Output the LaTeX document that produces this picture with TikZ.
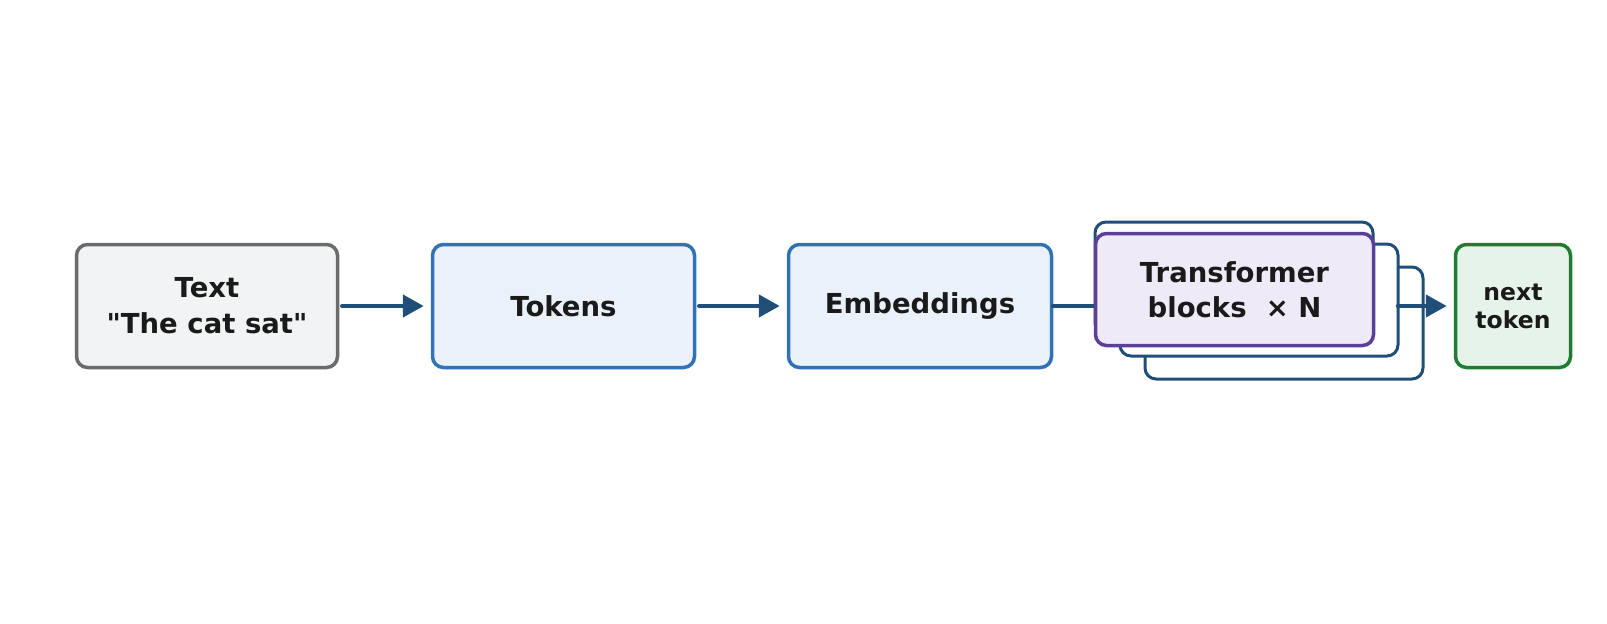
\documentclass[tikz,border=0pt]{standalone}
\usepackage{fontspec}
\setmainfont{DejaVu Sans}
\usetikzlibrary{arrows.meta}
\definecolor{txt}{HTML}{1A1A1A}
\definecolor{grayb}{HTML}{6B6B6B}
\definecolor{grayf}{HTML}{F2F3F5}
\definecolor{blueb}{HTML}{2F73B5}
\definecolor{bluef}{HTML}{EAF1FA}
\definecolor{purpb}{HTML}{5B3F99}
\definecolor{purpf}{HTML}{EEEAF8}
\definecolor{darkb}{HTML}{1F4E79}
\definecolor{greenb}{HTML}{1E7D32}
\definecolor{greenf}{HTML}{E6F3E8}
\tikzset{
  box/.style={rounded corners=11pt, line width=3.5pt, align=center, text=txt,
    font=\bfseries\fontsize{27.5}{36}\selectfont, inner sep=0pt},
  stackbox/.style={rounded corners=11pt, line width=3pt, draw=darkb, fill=white,
    minimum width=278pt, minimum height=112pt, inner sep=0pt},
  arr/.style={draw=darkb, line width=4.5pt, line cap=round,
    -{Triangle[length=21pt,width=22pt]}, shorten >=7pt},
  link/.style={draw=darkb, line width=4.5pt, line cap=round}
}
\begin{document}
\begin{tikzpicture}[x=1pt,y=-1pt]
\useasboundingbox (0,0) rectangle (1607,624);
\node[box, draw=grayb, fill=grayf, minimum width=261pt, minimum height=123pt] (text) at (207,306) {Text\\\textquotedbl The cat sat\textquotedbl};
\node[box, draw=blueb, fill=bluef, minimum width=262pt, minimum height=123pt] (tok) at (563.5,306) {Tokens};
\node[box, draw=blueb, fill=bluef, minimum width=263pt, minimum height=123pt] (emb) at (920,306) {Embeddings};
\node[box, draw=greenb, fill=greenf, minimum width=115pt, minimum height=123pt,
  font=\bfseries\fontsize{23.5}{28}\selectfont] (next) at (1513,306) {next\\token};
\draw[link] (emb.east) -- (1094,306) coordinate (tin);
\node[stackbox] (s3) at (1284,323) {};
\node[stackbox] (s2) at (1259,300) {};
\node[stackbox] (s1) at (1234,278) {};
\node[box, draw=purpb, fill=purpf, minimum width=278pt, minimum height=112pt,
  font=\bfseries\fontsize{27.5}{35}\selectfont] (tf) at (1234.5,289.5) {Transformer\\blocks\ \ × N};
\coordinate (tout) at (1398,306);
\draw[arr, shorten <=3pt] (text.east) -- (tok.west);
\draw[arr, shorten <=3pt] (tok.east) -- (emb.west);
\draw[arr] (tout) -- (next.west);
\end{tikzpicture}
\end{document}
